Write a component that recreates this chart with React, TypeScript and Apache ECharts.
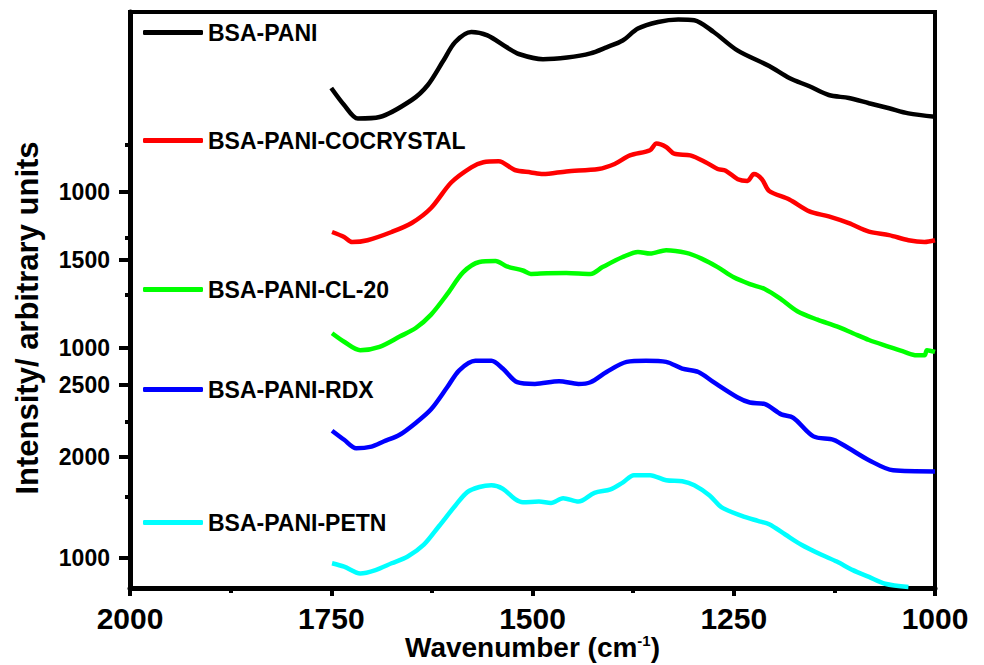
import React, { useEffect, useRef } from "react";
import * as echarts from "echarts";

// Wavenumber (cm-1) vs. offset intensity (arbitrary units, stacked traces)
const bsaPani: [number, number][] = [
  [1750, 500], [1734, 483], [1717, 469.5], [1690, 471], [1650, 488], [1630, 503],
  [1611, 527], [1596, 546], [1576, 556], [1556, 552.6], [1532, 540.7], [1517, 534],
  [1487, 528.8], [1457, 530.5], [1428, 534.6], [1408, 540.7], [1388, 547.5], [1369, 559.4],
  [1344, 566], [1319, 568.5], [1299, 567.8], [1275, 556], [1245, 537.3], [1206, 522],
  [1181, 510], [1156, 501.7], [1132, 493], [1107, 490], [1082, 484.8], [1057, 479.7],
  [1033, 474.6], [1000, 471.2],
];

const bsaPaniCocrystal: [number, number][] = [
  [1749, 356], [1734, 351], [1724, 346], [1705, 347.8], [1675, 356], [1650, 365],
  [1626, 380], [1601, 405.5], [1576, 420.7], [1561, 425.8], [1542, 426.8], [1522, 418],
  [1502, 415.6], [1487, 413.9], [1458, 416.6], [1418, 419], [1398, 424], [1379, 432.6],
  [1354, 437.7], [1346, 444.4], [1334, 441], [1324, 434.3], [1304, 432.6], [1285, 425.8],
  [1270, 419], [1260, 417.3], [1245, 408.8], [1233, 407.1], [1225, 413.9], [1215, 408.8],
  [1206, 397], [1181, 388.5], [1156, 376.6], [1132, 371.6], [1107, 364.8], [1082, 356.3],
  [1057, 352.9], [1033, 347.8], [1013, 346.1], [1000, 347.8],
];

const bsaPaniCl20: [number, number][] = [
  [1749, 254.8], [1734, 246.3], [1714, 237.8], [1690, 241.2], [1665, 251.4], [1645, 260],
  [1626, 273.4], [1606, 293.8], [1586, 315.8], [1566, 326], [1546, 327], [1532, 321.6],
  [1512, 317.5], [1502, 314.1], [1482, 314.8], [1458, 315.1], [1428, 314.1], [1413, 320.9],
  [1388, 331], [1369, 336.1], [1354, 334.4], [1334, 337.8], [1309, 335.1], [1290, 329.4],
  [1270, 320.9], [1250, 310.7], [1230, 303.9], [1211, 298.8], [1191, 288.7], [1171, 276.8],
  [1146, 268.3], [1122, 261.6], [1102, 254.8], [1082, 248], [1057, 241.2], [1038, 236.1],
  [1023, 232.7], [1013, 232.7], [1010, 237.8], [1000, 236.1],
];

const bsaPaniRdx: [number, number][] = [
  [1749, 157.3], [1734, 148.2], [1719, 139.7], [1700, 141.4], [1685, 146.5], [1665, 153.2],
  [1645, 165.1], [1626, 178.7], [1606, 200.7], [1591, 217.7], [1571, 227.2], [1551, 227.2],
  [1537, 219.4], [1519, 205.8], [1497, 204.1], [1467, 206.8], [1443, 204.1], [1428, 205.8],
  [1408, 216], [1383, 226.1], [1359, 227.2], [1334, 226.1], [1314, 219.4], [1294, 216],
  [1275, 205.8], [1245, 190.5], [1230, 185.5], [1211, 183.8], [1191, 173.6], [1176, 170.2],
  [1151, 151.6], [1126, 148.2], [1107, 139.7], [1082, 127.8], [1052, 117.7], [1000, 116.6],
];

const bsaPaniPetn: [number, number][] = [
  [1749, 24.7], [1734, 21.3], [1714, 14.5], [1695, 17.9], [1675, 24.7], [1655, 31.5],
  [1635, 43.3], [1616, 62], [1596, 82.3], [1581, 95.9], [1566, 101], [1551, 102.7],
  [1537, 99.3], [1522, 89.1], [1512, 85.7], [1492, 86.4], [1477, 85], [1462, 89.8],
  [1443, 86.4], [1423, 95.2], [1403, 98.6], [1388, 105.4], [1374, 112.8], [1354, 112.8],
  [1334, 107.7], [1314, 106.7], [1299, 102.7], [1280, 92.5], [1265, 80.6], [1240, 72.1],
  [1220, 67.1], [1206, 63.7], [1186, 53.5], [1166, 43.3], [1141, 33.2], [1122, 26.4],
  [1102, 17.9], [1082, 11.1], [1062, 4.3], [1033, 1],
];

const seriesNames = [
  "BSA-PANI",
  "BSA-PANI-COCRYSTAL",
  "BSA-PANI-CL-20",
  "BSA-PANI-RDX",
  "BSA-PANI-PETN",
];
const seriesColors = ["#000000", "#ff0000", "#00ff00", "#0000ff", "#00ffff"];
const seriesData = [bsaPani, bsaPaniCocrystal, bsaPaniCl20, bsaPaniRdx, bsaPaniPetn];

// Left axis: each stacked trace keeps its own original intensity labels
const yTickPositions = [396, 328, 240, 203, 131, 30];
const yTickLabels = ["1000", "1500", "1000", "2500", "2000", "1000"];
const yMinorTickPositions = [443, 350, 293, 166, 91];

const xTickValues = [2000, 1750, 1500, 1250, 1000];

const FONT = "'Liberation Sans', Arial, sans-serif";

export default function App() {
  const ref = useRef<HTMLDivElement>(null);

  useEffect(() => {
    if (!ref.current) return;
    const chart = echarts.init(ref.current, null, { renderer: "svg" });

    const legendTops = [33, 141, 290, 390, 523];

    const option: any = {
      animation: false,
      backgroundColor: "#ffffff",
      grid: {
        left: 130,
        top: 12,
        width: 805,
        height: 576,
        show: true,
        borderColor: "#000",
        borderWidth: 4,
        backgroundColor: "transparent",
        containLabel: false,
        outerBoundsMode: "none",
      },
      legend: seriesNames.map((name, i) => ({
        data: [name],
        left: 143,
        top: legendTops[i] - 12,
        padding: 0,
        itemWidth: 60,
        itemHeight: 5,
        icon: "roundRect",
        selectedMode: false,
        textStyle: {
          fontFamily: FONT,
          fontWeight: "bold",
          fontSize: 23,
          color: "#000",
        },
      })),
      xAxis: {
        type: "value",
        inverse: true,
        min: 1000,
        max: 2000,
        interval: 250,
        name: "Wavenumber (cm{s|-1})",
        nameLocation: "middle",
        nameGap: 45,
        nameMoveOverlap: false,
        nameTextStyle: {
          fontFamily: FONT,
          fontWeight: "bold",
          fontSize: 28,
          lineHeight: 28,
          color: "#000",
          rich: {
            s: {
              fontFamily: FONT,
              fontWeight: "bold",
              fontSize: 15,
              lineHeight: 28,
              color: "#000",
              verticalAlign: "top",
            },
          },
        },
        axisLine: { show: true, lineStyle: { color: "#000", width: 5 } },
        axisTick: { show: true, length: 8, lineStyle: { color: "#000", width: 4 } },
        minorTick: { show: true, splitNumber: 2, length: 5, lineStyle: { color: "#000", width: 4 } },
        splitLine: { show: false },
        axisLabel: {
          fontFamily: FONT,
          fontWeight: "bold",
          fontSize: 30,
          lineHeight: 26,
          color: "#000",
          margin: 17,
          formatter: (v: number) => (xTickValues.includes(v) ? String(v) : ""),
        },
      },
      yAxis: [
        {
          type: "value",
          position: "left",
          min: 0,
          max: 576,
          axisLine: { show: true, lineStyle: { color: "#000", width: 5 } },
          axisTick: {
            show: true,
            length: 11,
            customValues: yTickPositions,
            lineStyle: { color: "#000", width: 4 },
          },
          splitLine: { show: false },
          axisLabel: {
            customValues: yTickPositions,
            fontFamily: FONT,
            fontWeight: "bold",
            fontSize: 23,
            color: "#000",
            margin: 20,
            formatter: (v: number) => {
              const idx = yTickPositions.indexOf(v);
              return idx >= 0 ? yTickLabels[idx] : "";
            },
          },
        },
        {
          type: "value",
          position: "left",
          min: 0,
          max: 576,
          axisLine: { show: false },
          axisTick: {
            show: true,
            length: 5,
            customValues: yMinorTickPositions,
            lineStyle: { color: "#000", width: 4 },
          },
          splitLine: { show: false },
          axisLabel: { show: false },
        },
      ],
      graphic: [
        {
          type: "text",
          x: 27,
          y: 318,
          rotation: Math.PI / 2,
          style: {
            text: "Intensity/ arbitrary units",
            fontFamily: FONT,
            fontWeight: "bold",
            fontSize: 31,
            fill: "#000",
            align: "center",
            verticalAlign: "middle",
          },
        },
      ],
      series: seriesNames.map((name, i) => ({
        name,
        type: "line",
        data: seriesData[i],
        xAxisIndex: 0,
        yAxisIndex: 0,
        showSymbol: false,
        symbol: "none",
        smooth: 0.3,
        clip: false,
        color: seriesColors[i],
        lineStyle: { color: seriesColors[i], width: 4.5 },
        itemStyle: { color: seriesColors[i] },
        z: 3,
      })),
    };

    chart.setOption(option);
    return () => chart.dispose();
  }, []);

  return (
    <div
      ref={ref}
      style={{ position: "fixed", left: 0, top: 0, width: 984, height: 665, background: "#fff" }}
    />
  );
}
